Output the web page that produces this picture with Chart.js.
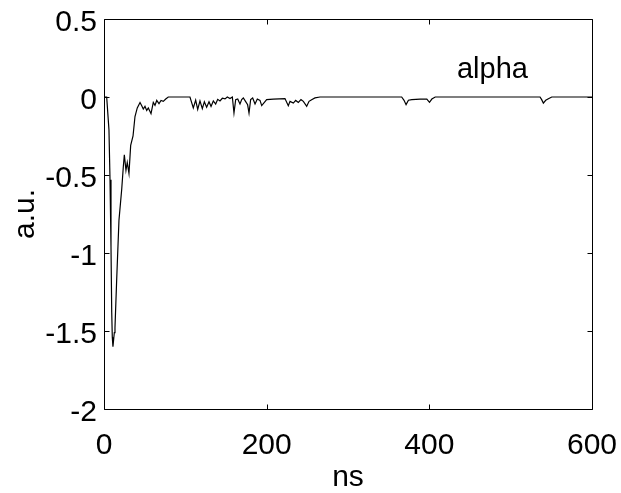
<!DOCTYPE html>
<html>
<head>
<meta charset="utf-8">
<script src="https://cdn.jsdelivr.net/npm/chart.js@4/dist/chart.umd.min.js"></script>
<style>
  html, body { margin: 0; padding: 0; background: #fff; }
  #wrap { width: 621px; height: 493px; }
</style>
</head>
<body>
<div id="wrap"><canvas id="alphaChart" width="621" height="493"></canvas></div>
<script>
// Time axis (ns) and signal (a.u.)
const timeNs = [
  0, 3.3, 6.1, 7.4, 8.6, 9.5, 10.2, 11, 12.7, 13.5, 15.6, 18.4, 21.8, 23.7, 25, 27, 28.6, 30.7,
  32.8, 35.7, 38.1, 40.9, 44.3, 46.4, 48.3, 50.4, 52.5, 54.5, 57.8, 60.6, 62.7, 64.8, 67.6, 70.1,
  72.9, 75.9, 79, 104, 105.7, 109.8, 112.7, 115.2, 118.0, 120.9, 123.4, 126.2, 129.1, 131.6,
  134.4, 137.3, 139.8, 142.6, 145.5, 148.8, 151.6, 154.9, 157.8, 159.8, 161.9, 164.4, 167.2,
  169.3, 171.3, 174.2, 176.6, 178.3, 180.3, 182.8, 185.7, 188.5, 191.8, 193.9, 200.0, 208.2,
  222.5, 226.6, 228.7, 232.8, 235.7, 238.9, 242.2, 245.1, 249.2, 252.1, 255.3, 259.4, 265.6,
  366, 368.9, 371.4, 374.3, 378.4, 388.7, 396.9, 400.2, 403.1, 407.2,
  536.1, 538.1, 540.2, 543.1, 546.4, 550.5, 600
];
const signal = [
  0, 0, -0.21, -0.53, -0.96, -1.38, -1.54, -1.6, -1.51, -1.48, -1.17, -0.79, -0.59, -0.45, -0.37, -0.47, -0.42, -0.49,
  -0.31, -0.25, -0.125, -0.07, -0.035, -0.056, -0.077, -0.06, -0.086, -0.07, -0.107, -0.035, -0.054, -0.022, -0.043, -0.022,
  -0.028, -0.013, 0, 0, 0, -0.07, -0.02, -0.08, -0.025, -0.075, -0.03, -0.065, -0.03, -0.06,
  -0.025, -0.045, -0.015, -0.025, -0.008, -0.012, 0, -0.01, 0, -0.103, -0.017, -0.013, -0.045,
  -0.017, -0.006, -0.03, -0.05, -0.103, -0.017, -0.006, -0.045, -0.013, -0.022, -0.055, -0.017, -0.013,
  -0.01, -0.056, -0.028, -0.039, -0.022, -0.035, -0.017, -0.028, -0.06, -0.028, -0.017, -0.006, 0,
  0, -0.021, -0.049, -0.021, -0.017, -0.013, -0.013, -0.034, -0.013, 0,
  0, -0.017, -0.039, -0.021, -0.011, 0, 0
];
const xTicks = [0, 200, 400, 600];
const yTicks = [0.5, 0, -0.5, -1, -1.5, -2];
const seriesLabel = 'alpha';

const FONT = "'Liberation Sans', Arial, sans-serif";

// box around the axes plus inward tick marks (MATLAB style)
const boxPlugin = {
  id: 'boxTicks',
  afterDraw(chart) {
    const { ctx, chartArea: a, scales: { x, y } } = chart;
    const L = Math.round(a.left) + 0.5, R = Math.round(a.right) + 0.5;
    const T = Math.round(a.top) + 0.5, B = Math.round(a.bottom) + 0.5;
    const len = 5;
    ctx.save();
    ctx.strokeStyle = '#000';
    ctx.lineWidth = 1;
    ctx.beginPath();
    ctx.rect(L, T, R - L, B - T);
    xTicks.forEach(v => {
      const px = Math.round(x.getPixelForValue(v)) + 0.5;
      ctx.moveTo(px, B); ctx.lineTo(px, B - len);
      ctx.moveTo(px, T); ctx.lineTo(px, T + len);
    });
    yTicks.forEach(v => {
      const py = Math.round(y.getPixelForValue(v)) + 0.5;
      ctx.moveTo(L, py); ctx.lineTo(L + len, py);
      ctx.moveTo(R, py); ctx.lineTo(R - len, py);
    });
    ctx.stroke();

    // series label inside the axes
    ctx.fillStyle = '#000';
    ctx.font = '29px ' + FONT;
    ctx.textAlign = 'left';
    ctx.textBaseline = 'alphabetic';
    ctx.fillText(seriesLabel, x.getPixelForValue(434), y.getPixelForValue(0.124));
    ctx.restore();
  }
};

new Chart(document.getElementById('alphaChart'), {
  type: 'line',
  data: {
    datasets: [{
      label: seriesLabel,
      data: timeNs.map((t, i) => ({ x: t, y: signal[i] })),
      borderColor: '#000',
      borderWidth: 1.2,
      pointRadius: 0,
      tension: 0,
      fill: false
    }]
  },
  options: {
    responsive: false,
    animation: false,
    devicePixelRatio: 1,
    layout: { padding: { top: 19, right: 29, left: 0, bottom: 0 } },
    plugins: { legend: { display: false }, tooltip: { enabled: false } },
    scales: {
      x: {
        type: 'linear',
        min: 0,
        max: 600,
        afterBuildTicks: s => { s.ticks = xTicks.map(v => ({ value: v })); },
        afterFit: s => { s.height = 84; s.paddingLeft = 0; s.paddingRight = 0; },
        ticks: { color: '#000', font: { family: FONT, size: 30 }, padding: 19, maxRotation: 0 },
        grid: { display: false, drawTicks: false },
        border: { display: false },
        title: { display: true, text: 'ns', color: '#000', font: { family: FONT, size: 30, lineHeight: 1 }, padding: 0 }
      },
      y: {
        min: -2,
        max: 0.5,
        afterBuildTicks: s => { s.ticks = yTicks.map(v => ({ value: v })); },
        afterFit: s => { s.width = 104; s.paddingTop = 0; s.paddingBottom = 0; },
        ticks: { color: '#000', font: { family: FONT, size: 30 }, padding: 7, labelOffset: 4,
                 callback: v => String(v) },
        grid: { display: false, drawTicks: false },
        border: { display: false },
        title: { display: true, text: 'a.u.', color: '#000', font: { family: FONT, size: 30, lineHeight: 1 }, padding: { top: 11, bottom: 0 } }
      }
    }
  },
  plugins: [boxPlugin]
});
</script>
</body>
</html>
